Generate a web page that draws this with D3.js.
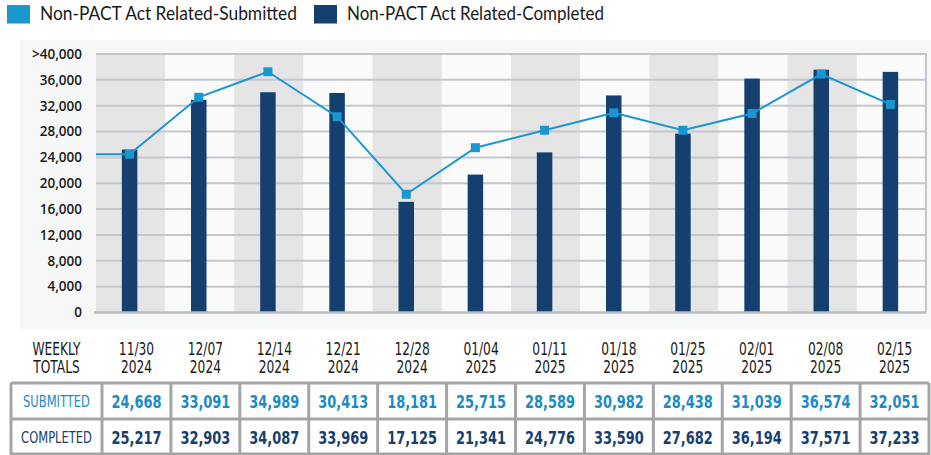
<!DOCTYPE html>
<html>
<head>
<meta charset="utf-8">
<script src="https://cdn.jsdelivr.net/npm/d3@7"></script>
<style>
    body { margin: 0; background: #ffffff; }
    svg { display: block; }
    .narrow { font-family: "Liberation Sans Narrow", "DejaVu Sans Condensed", "Roboto", sans-serif; }
</style>
</head>
<body>
<svg id="chart" width="931" height="455"></svg>
<script>
// week ending dates shown under the plot
const weeks = ["11/30", "12/07", "12/14", "12/21", "12/28", "01/04",
    "01/11", "01/18", "01/25", "02/01", "02/08", "02/15"];
const years = ["2024", "2024", "2024", "2024", "2024", "2025",
    "2025", "2025", "2025", "2025", "2025", "2025"];

// weekly totals as printed in the table
const submittedTotals = [24668, 33091, 34989, 30413, 18181, 25715,
    28589, 30982, 28438, 31039, 36574, 32051];
const completedTotals = [25217, 32903, 34087, 33969, 17125, 21341,
    24776, 33590, 27682, 36194, 37571, 37233];

// submitted line as it is plotted (12/14 point sits higher than its table value)
const submittedPlotted = [24500, 33300, 37250, 30300, 18300, 25500,
    28200, 30900, 28200, 30800, 36900, 32200];
// the line comes in from the week before the first one shown
const submittedPrevious = 24500;

const yTicks = [0, 4000, 8000, 12000, 16000, 20000, 24000, 28000, 32000, 36000, 40000];
const legendLabels = ["Non-PACT Act Related-Submitted", "Non-PACT Act Related-Completed"];

const colors = {
    submitted: "#1a96d1",
    completed: "#143f6f",
    submittedText: "#1b8bc7",
    completedText: "#17406e",
    grid: "#c3c7cd",
    bandGray: "#e5e5e5",
    bandLight: "#fafafa",
    panel: "#f6f7f7",
    tableBorder: "#a5a5a5"
};

const svg = d3.select("#chart");
const plot = {left: 96, right: 926, top: 54, bottom: 312.5};

// legend
const legend = svg.append("g").attr("class", "legend");
const legendX = [7, 314];
legendLabels.forEach((label, i) => {
    const g = legend.append("g").attr("transform", `translate(${legendX[i]},5)`);
    g.append("rect")
        .attr("width", 23).attr("height", 18.5)
        .attr("fill", i === 0 ? colors.submitted : colors.completed);
    g.append("text")
        .attr("x", 33).attr("y", 15)
        .attr("font-family", "Lato, 'Open Sans', sans-serif")
        .attr("font-size", 19)
        .attr("fill", "#1a1a1a")
        .attr("textLength", 257)
        .attr("lengthAdjust", "spacingAndGlyphs")
        .text(label);
});

// light panel behind the plot
svg.append("rect")
    .attr("x", 20).attr("y", 40)
    .attr("width", 911).attr("height", 289)
    .attr("fill", colors.panel);

const x = d3.scaleBand()
    .domain(weeks)
    .range([plot.left, plot.right]);

const y = d3.scaleLinear()
    .domain([0, 40000])
    .range([plot.bottom, plot.top]);

// alternating column bands
svg.append("g")
    .selectAll("rect")
    .data(weeks)
    .enter()
    .append("rect")
    .attr("x", d => x(d))
    .attr("y", y(40000))
    .attr("width", x.bandwidth())
    .attr("height", y(0) - y(40000))
    .attr("fill", (d, i) => i % 2 === 0 ? colors.bandGray : colors.bandLight);

// gridlines
svg.append("g")
    .selectAll("line")
    .data(yTicks.filter(d => d > 0))
    .enter()
    .append("line")
    .attr("x1", plot.left)
    .attr("x2", plot.right)
    .attr("y1", d => y(d))
    .attr("y2", d => y(d))
    .attr("stroke", colors.grid)
    .attr("stroke-width", 2);

// right border of the plot
svg.append("line")
    .attr("x1", plot.right).attr("x2", plot.right)
    .attr("y1", y(40000) - 1).attr("y2", y(0))
    .attr("stroke", colors.grid)
    .attr("stroke-width", 2);

// y axis labels
const yAxis = d3.axisLeft(y)
    .tickValues(yTicks)
    .tickSize(0)
    .tickPadding(14)
    .tickFormat(d => d === 40000 ? ">40,000" : d3.format(",")(d));

svg.append("g")
    .attr("transform", `translate(${plot.left},0)`)
    .call(yAxis)
    .call(g => g.select(".domain").remove())
    .selectAll("text")
    .attr("font-family", "'Open Sans', sans-serif")
    .attr("font-weight", 600)
    .attr("font-size", 13.5)
    .attr("fill", "#1a1a1a");

// completed bars
const barWidth = 15.5;
svg.append("g")
    .selectAll("rect")
    .data(completedTotals)
    .enter()
    .append("rect")
    .attr("x", (d, i) => x(weeks[i]) + x.bandwidth() / 2 - barWidth / 2 - 1)
    .attr("y", d => y(d))
    .attr("width", barWidth)
    .attr("height", d => y(0) - y(d))
    .attr("fill", colors.completed);

// baseline
svg.append("line")
    .attr("x1", plot.left - 2).attr("x2", plot.right)
    .attr("y1", y(0)).attr("y2", y(0))
    .attr("stroke", "#b9bdc4")
    .attr("stroke-width", 2.5);

// submitted line
const points = submittedPlotted.map((v, i) => [x(weeks[i]) + x.bandwidth() / 2 - 1, y(v)]);
const linePoints = [[plot.left, y(submittedPrevious)]].concat(points);

svg.append("path")
    .attr("d", d3.line()(linePoints))
    .attr("fill", "none")
    .attr("stroke", colors.submitted)
    .attr("stroke-width", 2);

const markerSize = 9;
svg.append("g")
    .selectAll("rect")
    .data(points)
    .enter()
    .append("rect")
    .attr("x", d => d[0] - markerSize / 2)
    .attr("y", d => d[1] - markerSize / 2)
    .attr("width", markerSize)
    .attr("height", markerSize)
    .attr("fill", colors.submitted);

// table of weekly totals
const table = {left: 11, firstCol: 102, right: 929, top: 383, mid: 419, bottom: 455};
const tx = d3.scaleBand()
    .domain(weeks)
    .range([table.firstCol, table.right]);
const firstColCenter = (table.left + table.firstCol) / 2;
const squeeze = 0.8; // condensed look for the table lettering

// text placed at (cx, cy) and squeezed horizontally
const cellText = (parent, cx, cy, str) => parent.append("text")
    .attr("transform", `translate(${cx},${cy}) scale(${squeeze},1)`)
    .text(str);

const header = svg.append("g").attr("class", "narrow")
    .attr("font-size", 17)
    .attr("fill", "#1a1a1a")
    .attr("text-anchor", "middle");

cellText(header, firstColCenter, 355, "WEEKLY");
cellText(header, firstColCenter, 373, "TOTALS");

weeks.forEach((w, i) => {
    const cx = tx(w) + tx.bandwidth() / 2;
    cellText(header, cx, 355, w);
    cellText(header, cx, 373, years[i]);
});

const rows = [
    {label: "SUBMITTED", values: submittedTotals, color: colors.submittedText, top: table.top},
    {label: "COMPLETED", values: completedTotals, color: colors.completedText, top: table.mid}
];

const body = svg.append("g").attr("class", "narrow").attr("text-anchor", "middle");
rows.forEach(row => {
    const cy = row.top + (table.mid - table.top) / 2 + 6;
    cellText(body, firstColCenter, cy, row.label)
        .attr("font-size", 16)
        .attr("fill", row.color);
    row.values.forEach((v, i) => {
        cellText(body, tx(weeks[i]) + tx.bandwidth() / 2, cy + 0.5, d3.format(",")(v))
            .attr("font-size", 18)
            .attr("font-weight", "bold")
            .attr("fill", row.color);
    });
});

// table grid
const grid = svg.append("g")
    .attr("stroke", colors.tableBorder)
    .attr("stroke-width", 3)
    .attr("fill", "none");

[table.top, table.mid, table.bottom - 1].forEach(yy => {
    grid.append("line")
        .attr("x1", table.left).attr("x2", table.right)
        .attr("y1", yy).attr("y2", yy);
});

const colEdges = [table.left, table.firstCol].concat(weeks.map(w => tx(w) + tx.bandwidth()));
grid.selectAll(null)
    .data(colEdges)
    .enter()
    .append("line")
    .attr("x1", d => d).attr("x2", d => d)
    .attr("y1", table.top).attr("y2", table.bottom);
</script>
</body>
</html>
